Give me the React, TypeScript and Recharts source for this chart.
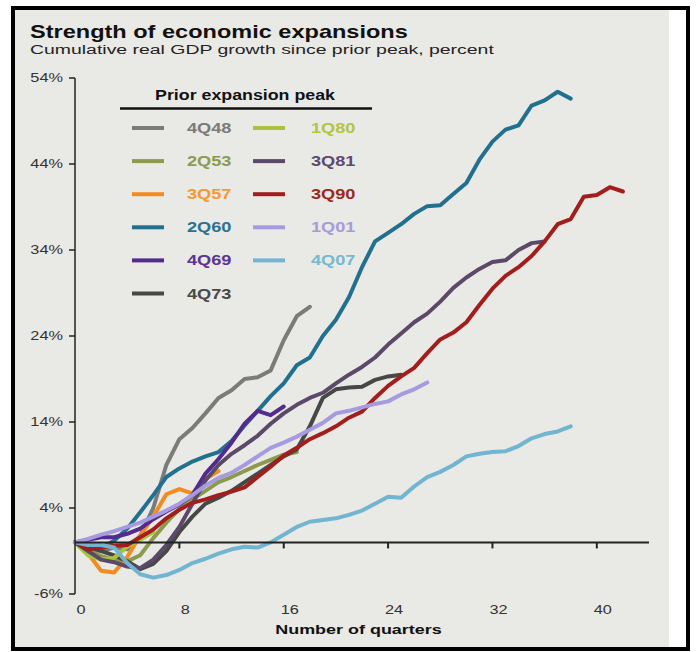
import React from 'react'
import { LineChart, Line, XAxis, YAxis, ReferenceLine } from 'recharts'

// cumulative real GDP growth since prior peak, percent, by quarter after the peak
const s4Q48 = [0, -0.5, -1.0, -0.6, -0.8, 0.8, 4.0, 9.0, 12.0, 13.3, 15.0, 16.8, 17.7, 19.0, 19.2, 20.0, 23.5, 26.3, 27.4]
const s2Q53 = [0, -0.8, -1.6, -2.0, -2.2, -1.5, 0.5, 2.3, 3.9, 5.0, 6.0, 7.0, 7.6, 8.3, 9.0, 9.6, 10.2, 10.5]
const s3Q57 = [0, -1.3, -3.3, -3.5, -1.7, 0.8, 3.0, 5.6, 6.2, 5.7, 7.4, 8.3]
const s2Q60 = [0, -0.4, -0.6, 0.2, 1.6, 3.5, 5.5, 7.6, 8.6, 9.4, 10.0, 10.5, 11.8, 13.6, 15.3, 17.0, 18.5, 20.6, 21.5, 24.0, 25.9, 28.5, 32.0, 35.0, 36.0, 37.0, 38.2, 39.1, 39.2, 40.5, 41.8, 44.5, 46.6, 48.0, 48.5, 50.8, 51.4, 52.4, 51.6]
const s4Q69 = [0, 0.3, 0.6, 0.6, 1.0, 1.6, 2.7, 3.6, 4.4, 5.5, 8.0, 9.7, 11.6, 13.8, 15.3, 14.8, 15.8]
const s4Q73 = [0, -0.5, -1.0, -1.5, -2.2, -3.1, -2.5, -1.0, 1.2, 3.0, 4.5, 5.2, 6.0, 7.0, 8.0, 9.0, 10.0, 10.8, 13.5, 16.8, 17.8, 18.0, 18.1, 18.9, 19.3, 19.5]
const s1Q80 = [0, -1.5, -2.0, -1.8, -0.5, 0.3, 1.2]
const s3Q81 = [0, -1.0, -2.0, -2.3, -2.8, -3.0, -2.0, -0.3, 1.8, 4.5, 7.2, 9.0, 10.3, 11.3, 12.4, 13.8, 15.0, 16.0, 16.8, 17.4, 18.5, 19.5, 20.4, 21.5, 23.0, 24.3, 25.6, 26.6, 28.0, 29.6, 30.8, 31.8, 32.6, 32.8, 34.0, 34.8, 35.0]
const s3Q90 = [0, -0.8, -0.6, -0.4, -0.3, 0.6, 1.5, 2.8, 3.8, 4.6, 5.0, 5.5, 5.9, 6.4, 7.6, 8.8, 10.1, 11.0, 12.0, 12.7, 13.5, 14.5, 15.2, 16.8, 18.2, 19.3, 20.3, 22.0, 23.6, 24.4, 25.6, 27.6, 29.5, 31.0, 32.0, 33.3, 35.0, 37.0, 37.6, 40.2, 40.4, 41.3, 40.8]
const s1Q01 = [0, 0.4, 0.9, 1.3, 1.8, 2.3, 3.0, 3.7, 4.5, 5.5, 6.6, 7.5, 8.1, 9.0, 10.0, 11.0, 11.6, 12.3, 13.1, 13.9, 15.0, 15.3, 15.7, 16.1, 16.4, 17.2, 17.8, 18.6]
const s4Q07 = [0, -0.3, -0.3, -0.6, -2.4, -3.7, -4.1, -3.8, -3.2, -2.4, -1.9, -1.3, -0.8, -0.5, -0.6, 0.0, 0.9, 1.8, 2.4, 2.6, 2.8, 3.2, 3.7, 4.5, 5.3, 5.2, 6.5, 7.6, 8.2, 9.0, 10.0, 10.3, 10.5, 10.6, 11.2, 12.1, 12.6, 12.9, 13.5]

const X_TICKS = [0, 8, 16, 24, 32, 40]
const Y_TICKS = [-6, 4, 14, 24, 34, 44, 54]

const SERIES = [
  { name: '4Q48', color: '#7b7b7b', text: '#7a7a7a', values: s4Q48 },
  { name: '2Q53', color: '#8b9a4c', text: '#8c9b52', values: s2Q53 },
  { name: '3Q57', color: '#f38b1f', text: '#f39a33', values: s3Q57 },
  { name: '2Q60', color: '#21708f', text: '#2b7190', values: s2Q60 },
  { name: '4Q69', color: '#532b8e', text: '#5a3592', values: s4Q69 },
  { name: '4Q73', color: '#474747', text: '#4a4a4a', values: s4Q73 },
  { name: '1Q80', color: '#aac33a', text: '#b3c446', values: s1Q80 },
  { name: '3Q81', color: '#5c4868', text: '#5d4a6d', values: s3Q81 },
  { name: '3Q90', color: '#a31d1d', text: '#9b2a22', values: s3Q90 },
  { name: '1Q01', color: '#a69be0', text: '#a89bd8', values: s1Q01 },
  { name: '4Q07', color: '#71b5d1', text: '#7ab8cf', values: s4Q07 },
]

const maxLen = Math.max(...SERIES.map((s) => s.values.length))
const data = Array.from({ length: maxLen }, (_, q) => {
  const row: Record<string, number> = { q }
  SERIES.forEach((s) => {
    if (q < s.values.length) row[s.name] = s.values[q]
  })
  return row
})

const FONT = '"Liberation Sans", Arial, sans-serif'

function XTick({ x, y, payload }: any) {
  return (
    <text
      transform={`translate(${x + 6},${y + 20}) scale(1.36,1)`}
      textAnchor="middle"
      fontSize={12}
      fill="#333"
      fontFamily={FONT}
    >
      {payload.value}
    </text>
  )
}

function YTick({ x, y, payload }: any) {
  return (
    <text
      transform={`translate(${x},${y + 4.3}) scale(1.36,1)`}
      textAnchor="end"
      fontSize={12}
      fill="#333"
      fontFamily={FONT}
    >
      {payload.value}%
    </text>
  )
}

function Legend() {
  const rows = 6
  return (
    <g fontFamily={FONT}>
      <text transform="translate(245,99.5) scale(1.27,1)" textAnchor="middle" fontSize={14} fontWeight="bold" fill="#111">
        Prior expansion peak
      </text>
      <line x1={120} x2={372} y1={108.5} y2={108.5} stroke="#111" strokeWidth={2.5} />
      {SERIES.map((s, i) => {
        const col = Math.floor(i / rows)
        const row = i % rows
        const cy = 128 + row * 33.1
        const lx = col === 0 ? 132 : 253
        const tx = col === 0 ? 187 : 311
        return (
          <g key={s.name}>
            <line x1={lx} x2={lx + 32} y1={cy} y2={cy} stroke={s.color} strokeWidth={4} />
            <text transform={`translate(${tx},${cy + 5}) scale(1.3,1)`} fontSize={14} fontWeight="bold" fill={s.text}>
              {s.name}
            </text>
          </g>
        )
      })}
    </g>
  )
}

export default function App() {
  return (
    <div style={{ position: 'absolute', left: 0, top: 0, width: 699, height: 652, background: '#fff', overflow: 'hidden' }}>
      <div style={{ position: 'absolute', left: 11, top: 6, width: 679, height: 645, border: '4px solid #000', boxSizing: 'border-box' }} />
      <div style={{ position: 'absolute', left: 15, top: 10, width: 654, height: 637, background: '#e9e9e5' }} />
      <div style={{ position: 'absolute', left: 0, top: 0 }}>
        <LineChart width={699} height={652} data={data} margin={{ top: 78, right: 50, bottom: 8, left: 25 }}>
          <XAxis
            type="number"
            dataKey="q"
            domain={[0, 44]}
            ticks={X_TICKS}
            axisLine={false}
            tickLine={false}
            tickSize={0}
            tickMargin={0}
            height={50}
            tick={<XTick />}
          />
          <YAxis
            type="number"
            domain={[-6, 54]}
            ticks={Y_TICKS}
            width={50}
            tickSize={6}
            tickMargin={6}
            axisLine={{ stroke: '#222', strokeWidth: 1.5 }}
            tickLine={{ stroke: '#222', strokeWidth: 1.5 }}
            tick={<YTick />}
          />
          {SERIES.map((s) => (
            <Line
              key={s.name}
              type="linear"
              dataKey={s.name}
              stroke={s.color}
              strokeWidth={4}
              strokeLinejoin="round"
              strokeLinecap="round"
              dot={false}
              activeDot={false}
              isAnimationActive={false}
            />
          ))}
          <ReferenceLine y={0} stroke="#222" strokeWidth={2} />
          {X_TICKS.filter((t) => t > 0).map((t) => (
            <ReferenceLine
              key={t}
              segment={[
                { x: t, y: 0 },
                { x: t, y: -0.7 },
              ]}
              stroke="#222"
              strokeWidth={2}
            />
          ))}
        </LineChart>
      </div>
      <svg width={699} height={652} style={{ position: 'absolute', left: 0, top: 0, pointerEvents: 'none' }}>
        <g fontFamily={FONT}>
          <text transform="translate(30,37.7) scale(1.33,1)" fontSize={17.7} fontWeight="bold" fill="#111">
            Strength of economic expansions
          </text>
          <text transform="translate(30,54) scale(1.44,1)" fontSize={13.5} fill="#222">
            Cumulative real GDP growth since prior peak, percent
          </text>
          <text transform="translate(358.5,634) scale(1.33,1)" textAnchor="middle" fontSize={13.5} fontWeight="bold" fill="#111">
            Number of quarters
          </text>
        </g>
        <Legend />
      </svg>
    </div>
  )
}
